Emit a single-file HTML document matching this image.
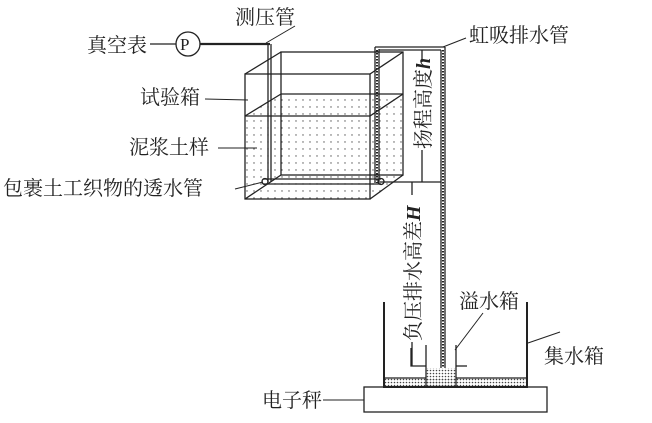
<!DOCTYPE html>
<html><head><meta charset="utf-8"><style>
html,body{margin:0;padding:0;background:#fff}
svg{display:block}
text{font-family:"Liberation Serif","Noto Serif CJK SC",serif;font-size:20px;fill:#222}
</style></head><body>
<svg width="652" height="423" viewBox="0 0 652 423" xmlns="http://www.w3.org/2000/svg">
<defs>
<pattern id="dots" width="7" height="7" patternUnits="userSpaceOnUse"><circle cx="2" cy="2" r="0.7" fill="#555"/></pattern>
<pattern id="dense" width="3" height="3" patternUnits="userSpaceOnUse"><circle cx="1.5" cy="1.5" r="0.8" fill="#444"/></pattern>
</defs>
<g stroke="#222" fill="none" stroke-width="1.3">
<polygon points="245,116 281,94 403,94 403,175 370,199 245,199" fill="url(#dots)" stroke="none"/>
<rect x="281" y="52" width="122" height="123"/>
<rect x="245" y="74" width="125" height="125"/>
<line x1="245" y1="74" x2="281" y2="52"/><line x1="370" y1="74" x2="403" y2="52"/>
<line x1="245" y1="199" x2="281" y2="175"/><line x1="370" y1="199" x2="403" y2="175"/>
<line x1="245" y1="116" x2="370" y2="116"/><line x1="281" y1="94" x2="403" y2="94"/>
<line x1="245" y1="116" x2="281" y2="94"/><line x1="370" y1="116" x2="403" y2="94"/>
<line x1="200" y1="44" x2="270" y2="44" stroke-width="2.2"/>
<line x1="268" y1="44" x2="268" y2="182"/><line x1="271" y1="44" x2="271" y2="182"/>
<circle cx="188" cy="44" r="12" fill="#fff"/>
<line x1="150" y1="44" x2="176" y2="44"/>
<line x1="263" y1="179" x2="381" y2="179"/><line x1="263" y1="184" x2="381" y2="184"/>
<ellipse cx="265" cy="181.5" rx="3" ry="3"/><ellipse cx="381" cy="181.5" rx="3" ry="3"/>
<line x1="375" y1="47" x2="375" y2="183"/><line x1="379" y1="49" x2="379" y2="183"/>
<line x1="375" y1="47" x2="445" y2="47"/><line x1="379" y1="50" x2="441" y2="50"/>
<line x1="441" y1="50" x2="441" y2="368"/><line x1="445" y1="47" x2="445" y2="368"/>
<line x1="377" y1="50" x2="377" y2="183" stroke-dasharray="1.5,1.5" stroke-width="2"/>
<line x1="443" y1="50" x2="443" y2="368" stroke-dasharray="1.5,1.5" stroke-width="2"/>
<line x1="380" y1="182" x2="441" y2="182"/>
<line x1="422" y1="50" x2="422" y2="62"/><line x1="422" y1="150" x2="422" y2="182"/>
<line x1="412" y1="182" x2="412" y2="195"/><line x1="412" y1="342" x2="412" y2="366"/>
<rect x="385" y="378" width="142" height="9" fill="url(#dense)" stroke="none"/>
<rect x="426" y="368" width="30" height="19" fill="url(#dense)" stroke="none"/>
<polyline points="384,302 384,387 527,387 527,302" stroke-width="2"/>
<line x1="426" y1="345" x2="426" y2="387"/><line x1="456" y1="345" x2="456" y2="387"/>
<polyline points="411,348 411,366 426,366"/>
<line x1="456" y1="366" x2="467" y2="366"/>
<line x1="385" y1="378" x2="426" y2="378"/><line x1="456" y1="378" x2="527" y2="378"/>
<rect x="364" y="387" width="183" height="25"/>
<line x1="295" y1="26" x2="266" y2="43" stroke-width="1"/>
<line x1="443" y1="47" x2="466" y2="38" stroke-width="1"/>
<line x1="205" y1="99" x2="248" y2="100" stroke-width="1"/>
<line x1="218" y1="148" x2="257" y2="148" stroke-width="1"/>
<line x1="235" y1="189" x2="263" y2="182" stroke-width="1"/>
<line x1="455" y1="350" x2="483" y2="313" stroke-width="1"/>
<line x1="528" y1="343" x2="560" y2="332" stroke-width="1"/>
<line x1="323" y1="400" x2="364" y2="400" stroke-width="1"/>
</g>
<text x="180" y="50" style="font-size:17px">P</text>
<text x="235" y="24">测压管</text>
<text x="87" y="52">真空表</text>
<text x="469" y="42">虹吸排水管</text>
<text x="140" y="104">试验箱</text>
<text x="129" y="154">泥浆土样</text>
<text x="3" y="195">包裹土工织物的透水管</text>
<text x="459" y="308">溢水箱</text>
<text x="544" y="363">集水箱</text>
<text x="262" y="407">电子秤</text>
<text transform="translate(430,149) rotate(-90)">扬程高度<tspan font-style="italic" font-weight="bold">h</tspan></text>
<text transform="translate(420,341) rotate(-90)">负压排水高差<tspan font-style="italic" font-weight="bold">H</tspan></text>
</svg>
</body></html>
